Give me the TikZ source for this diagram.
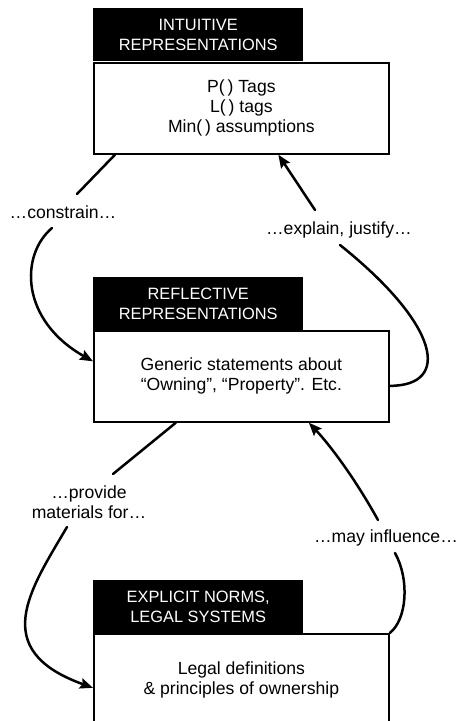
\documentclass[tikz,border=0pt]{standalone}
\usepackage{fontspec}
\setmainfont{Liberation Sans}
\usetikzlibrary{calc,arrows.meta}

\tikzset{
  header/.style={anchor=north west, fill=black, text=white, inner sep=0pt,
    minimum width=210bp, minimum height=53bp, align=center,
    font=\fontsize{16.4bp}{20.5bp}\selectfont},
  bodybox/.style={anchor=north west, draw=black, line width=1.7bp, fill=white,
    inner sep=0pt, minimum width=295bp, minimum height=91bp, align=center,
    font=\fontsize{17.6bp}{20bp}\selectfont},
  lbl/.style={inner sep=0pt, align=center, font=\fontsize{17.6bp}{20bp}\selectfont},
  conn/.style={line width=2.5bp, line cap=round},
  tipped/.style={-{Stealth[length=13bp,width=10.5bp,inset=2bp]}}
}

\begin{document}
\begin{tikzpicture}[x=1bp,y=-1bp]
  \useasboundingbox (0,0) rectangle (458,721);
  \clip (0,0) rectangle (458,721);

  % Intuitive level
  \node[bodybox] (tbody) at (93,62) {P(\,) Tags\\L(\,) tags\\Min(\,) assumptions};
  \node[header] (thead) at (93,8) {INTUITIVE\\REPRESENTATIONS};

  % Reflective level
  \node[bodybox] (mbody) at (93,330) {Generic statements about\\“Owning”, “Property”. Etc.};
  \node[header] (mhead) at (93,277) {REFLECTIVE\\REPRESENTATIONS};

  % Explicit level (runs off the bottom edge)
  \node[bodybox, minimum height=92bp] (bbody) at (93,633) {Legal definitions\\\&{} principles of ownership};
  \node[header] (bhead) at (93,580) {EXPLICIT NORMS,\\LEGAL SYSTEMS};

  % Connector labels
  \node[lbl] (lab1) at (63,212) {…constrain…};
  \node[lbl] (lab2) at (339,230) {…explain, justify…};
  \node[lbl] (lab3) at (89,502) {…provide\\materials for…};
  \node[lbl] (lab4) at (386,538) {…may influence…};

  % intuitive -> reflective
  \draw[conn] ($(tbody.south west)+(22,0)$) -- ($(lab1)+(14,-18)$);
  \draw[conn,tipped] ($(lab1)+(-11,16)$)
    .. controls ($(lab1)+(-43,43)$) and ($(lab1)+(-43,108)$) ..
    ($(mbody.west)+(0,-15)$);

  % reflective -> intuitive
  \draw[conn] ($(mbody.east)+(0,9.5)$)
    .. controls ($(mbody.east)+(62,9.5)$) and ($(lab2)+(101,95)$) ..
    ($(lab2)+(1,15)$);
  \draw[conn,tipped] ($(lab2)+(-24,-20)$) -- ($(tbody.south)+(37,0)$);

  % reflective -> explicit
  \draw[conn] ($(mbody.south)+(-65.5,0)$) -- ($(lab3)+(24,-28)$);
  \draw[conn,tipped] ($(lab3)+(-22,25)$)
    .. controls ($(lab3)+(-59,88)$) and ($(lab3)+(-101,148)$) ..
    ($(bbody.west)+(0,8)$);

  % explicit -> reflective
  \draw[conn] (bbody.north east)
    .. controls ($(bbody.north east)+(17,-13)$) and ($(lab4)+(24,42)$) ..
    ($(lab4)+(9,15)$);
  \draw[conn,tipped] ($(lab4)+(-8,-18)$)
    .. controls ($(lab4)+(-33,-63)$) and ($(lab4)+(-58,-95)$) ..
    ($(mbody.south)+(67.5,0)$);
\end{tikzpicture}
\end{document}
